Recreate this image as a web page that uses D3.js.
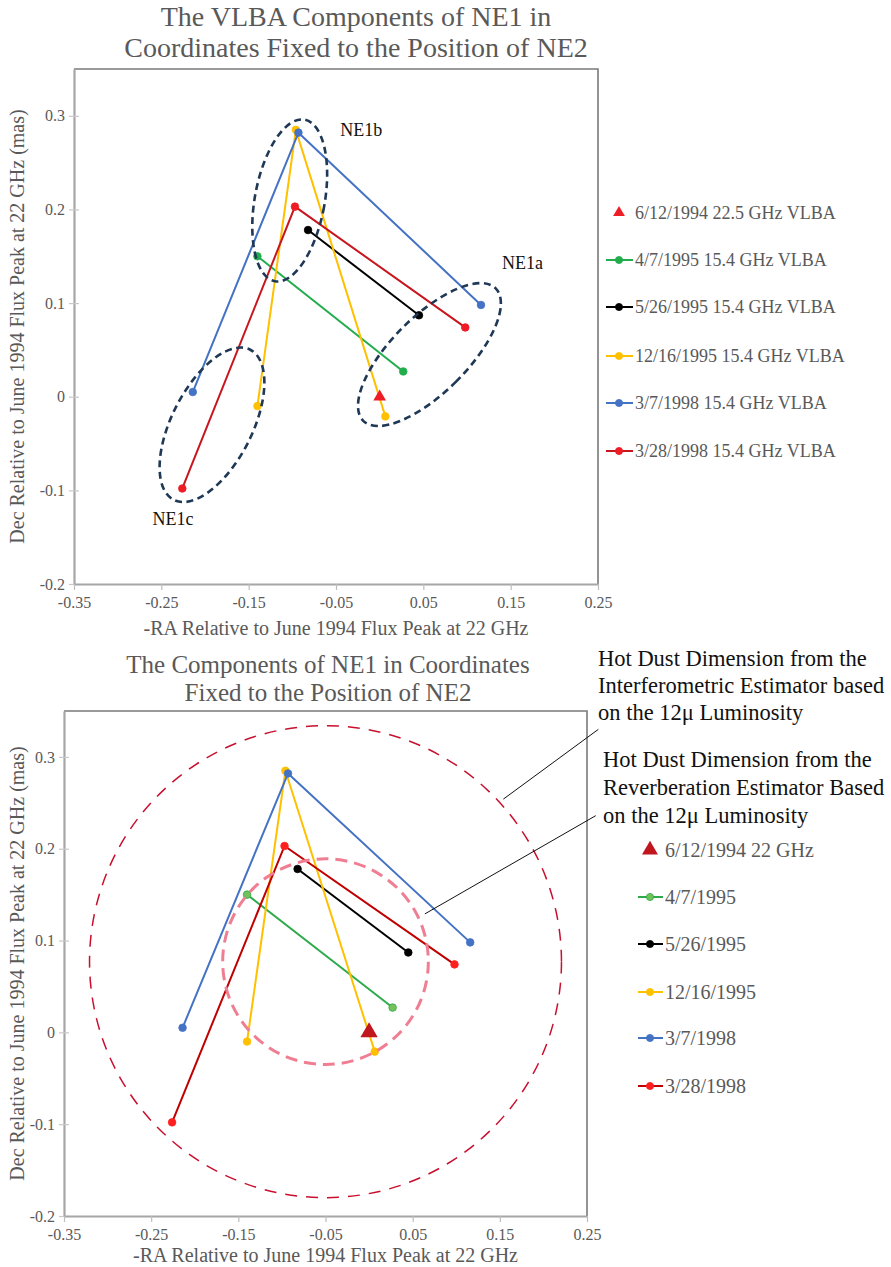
<!DOCTYPE html>
<html><head><meta charset="utf-8">
<script src="https://cdn.jsdelivr.net/npm/d3@7"></script>
<style>
body{margin:0;background:#fff;}
svg{display:block;}
text{font-family:"Liberation Serif","Times New Roman",serif;}
</style>
</head><body>
<svg id="c" width="891" height="1267"></svg>
<script>
// ---------- data ----------
const xTicks = [-0.35,-0.25,-0.15,-0.05,0.05,0.15,0.25];
const yTicks = [-0.2,-0.1,0,0.1,0.2,0.3];
const xDomain = [-0.35, 0.25];
const yDomain = [-0.2, 0.35];

const legendTop = ["6/12/1994 22.5 GHz VLBA","4/7/1995 15.4 GHz VLBA","5/26/1995 15.4 GHz VLBA","12/16/1995 15.4 GHz VLBA","3/7/1998 15.4 GHz VLBA","3/28/1998 15.4 GHz VLBA"];
const legendBottom = ["6/12/1994 22 GHz","4/7/1995","5/26/1995","12/16/1995","3/7/1998","3/28/1998"];

const pts19940612 = [[0.000, 0.000]];
const pts19950407 = [[-0.140, 0.150],[0.027, 0.027]];
const pts19950526 = [[-0.082, 0.178],[0.045, 0.087]];
const pts19951216 = [[-0.140,-0.010],[-0.096,0.285],[0.0065,-0.021]];
const pts19980307 = [[-0.214,0.005],[-0.093,0.282],[0.116,0.098]];
const pts19980328 = [[-0.226,-0.098],[-0.097,0.203],[0.098,0.074]];

// top-chart component ellipses (data units)
const ellipseNames = ["NE1a","NE1b","NE1c"];
const ellipseCenters = [[0.057,0.045],[-0.103,0.2096],[-0.192,-0.030]];
const ellipseAxes = [[0.0435,0.100],[0.040,0.0877],[0.046,0.090]];
const ellipseTilt = [45, 10.4, 27];
const ellipseLabelPos = [[0.140,0.136],[-0.045,0.278],[-0.260,-0.137]];

// bottom-chart hot dust circles (data units)
const dustCenter = [-0.05, 0.077];
const dustRadii = [0.257, 0.112];
const dustText1 = ["Hot Dust Dimension from the","Interferometric Estimator based","on the 12\u03bc Luminosity"];
const dustText2 = ["Hot Dust Dimension from the","Reverberation Estimator Based","on the 12\u03bc Luminosity"];
const leader1 = [[0.154,0.254],[0.263,0.330]];
const leader2 = [[0.064,0.129],[0.260,0.236]];

const titleTop = ["The VLBA Components of NE1 in","Coordinates Fixed to the Position of NE2"];
const titleBottom = ["The Components of NE1 in Coordinates","Fixed to the Position of NE2"];
const xTitle = "-RA Relative to June 1994 Flux Peak at 22 GHz";
const yTitle = "Dec Relative to June 1994 Flux Peak at 22 GHz (mas)";

// ---------- drawing ----------
const svg = d3.select("#c");
const GRAY = "#595959";
const seriesPts = [pts19950407, pts19950526, pts19951216, pts19980307, pts19980328];

function drawChart(cfg){
  const x = d3.scaleLinear().domain(xDomain).range([cfg.left, cfg.right]);
  const y = d3.scaleLinear().domain(yDomain).range([cfg.bottom, cfg.top]);
  const g = svg.append("g");

  cfg.title.forEach((t,i)=>{
    g.append("text").attr("x",cfg.titleX).attr("y",cfg.titleY + i*cfg.titleGap)
      .attr("text-anchor","middle").attr("font-size",cfg.titleSize).attr("fill",GRAY).text(t);
  });

  g.append("path").attr("d",`M${cfg.left},${cfg.top}H${cfg.right}V${cfg.bottom}`)
    .attr("fill","none").attr("stroke","#7a7a7a").attr("stroke-width",1.6);

  const yAxis = d3.axisLeft(y).tickValues(yTicks).tickSizeInner(0).tickSizeOuter(0).tickPadding(9)
      .tickFormat(d=> d===0 ? "0" : d3.format(".1f")(d).replace("\u2212","-"));
  const ya = g.append("g").attr("transform",`translate(${cfg.left},0)`).call(yAxis);
  ya.attr("font-family",null);
  ya.select(".domain").attr("stroke","#a6a6a6").attr("stroke-width",2.2);
  ya.selectAll(".tick text").attr("font-size",16).attr("fill",GRAY);
  ya.selectAll(".tick").append("line").attr("x1",-5).attr("x2",5).attr("stroke","#c8c8c8").attr("stroke-width",1.2);

  const xAxis = d3.axisBottom(x).tickValues(xTicks).tickSizeInner(6).tickSizeOuter(0).tickPadding(7)
      .tickFormat(d=> d3.format(".2f")(d).replace("\u2212","-"));
  const xa = g.append("g").attr("transform",`translate(0,${cfg.bottom})`).call(xAxis);
  xa.attr("font-family",null);
  xa.select(".domain").attr("stroke","#a6a6a6").attr("stroke-width",2);
  xa.selectAll(".tick line").attr("stroke","#bdbdbd").attr("stroke-width",1.2);
  xa.selectAll(".tick text").attr("font-size",16).attr("fill",GRAY);

  g.append("text").attr("x",(cfg.left+cfg.right)/2).attr("y",cfg.bottom+cfg.xTitleDy)
    .attr("text-anchor","middle").attr("font-size",20).attr("fill",GRAY).text(xTitle);
  g.append("text").attr("transform",`translate(${cfg.yTitleX},${(cfg.top+cfg.bottom)/2}) rotate(-90)`)
    .attr("text-anchor","middle").attr("font-size",20).attr("fill",GRAY).text(yTitle);

  const line = d3.line().x(d=>x(d[0])).y(d=>y(d[1]));
  seriesPts.forEach((pts,i)=>{
    const st = cfg.styles[i];
    g.append("path").datum(pts).attr("d",line).attr("fill","none")
      .attr("stroke",st.line).attr("stroke-width",2);
    g.selectAll(null).data(pts).enter().append("circle")
      .attr("cx",d=>x(d[0])).attr("cy",d=>y(d[1])).attr("r",3.8)
      .attr("fill",st.fill).attr("stroke",st.stroke).attr("stroke-width",0.8);
  });
  g.selectAll(null).data(pts19940612).enter().append("path")
    .attr("d",d3.symbol(d3.symbolTriangle, cfg.triSize))
    .attr("transform",d=>`translate(${x(d[0])},${y(d[1])})`)
    .attr("fill",cfg.triColor);

  cfg.legend.forEach((name,i)=>{
    const ly = cfg.legY[i];
    if(i===0){
      g.append("path").attr("d",d3.symbol(d3.symbolTriangle, cfg.legTriSize))
        .attr("transform",`translate(${cfg.legMark},${ly})`).attr("fill",cfg.triColor);
    } else {
      const st = cfg.styles[i-1];
      g.append("line").attr("x1",cfg.legL1).attr("x2",cfg.legL2).attr("y1",ly).attr("y2",ly)
        .attr("stroke",st.line).attr("stroke-width",2);
      g.append("circle").attr("cx",cfg.legMark).attr("cy",ly).attr("r",3.6)
        .attr("fill",st.fill).attr("stroke",st.stroke).attr("stroke-width",0.8);
    }
    g.append("text").attr("x",cfg.legText).attr("y",ly).attr("dy","0.34em")
      .attr("font-size",cfg.legSize).attr("fill",GRAY).text(name);
  });
  return {g,x,y};
}

const chartA = drawChart({
  left:74,right:598,top:69,bottom:584,
  title:titleTop,titleX:356,titleY:26,titleGap:31,titleSize:28,yTitleX:24,xTitleDy:51,
  styles:[
    {line:"#22AD4C",fill:"#22AD4C",stroke:"#22AD4C"},
    {line:"#000000",fill:"#000000",stroke:"#000000"},
    {line:"#FFC000",fill:"#FFC000",stroke:"#FFC000"},
    {line:"#4472C4",fill:"#4472C4",stroke:"#4472C4"},
    {line:"#C8161E",fill:"#EE1C25",stroke:"#EE1C25"}],
  triColor:"#EE1C25",triSize:70,legTriSize:60,
  legend:legendTop,legY:[212.7,260,307,356,403,451],
  legL1:606,legL2:633,legMark:619,legText:635,legSize:18
});

ellipseNames.forEach((nm,i)=>{
  const [cx,cy] = ellipseCenters[i];
  const px = chartA.x(cx), py = chartA.y(cy);
  const rx = chartA.x(cx+ellipseAxes[i][0]) - px;
  const ry = py - chartA.y(cy+ellipseAxes[i][1]);
  chartA.g.append("ellipse").attr("cx",px).attr("cy",py).attr("rx",rx).attr("ry",ry)
    .attr("transform",`rotate(${ellipseTilt[i]},${px},${py})`)
    .attr("fill","none").attr("stroke","#1F3855").attr("stroke-width",2.6)
    .attr("stroke-dasharray","7,4.5");
  chartA.g.append("text").attr("x",chartA.x(ellipseLabelPos[i][0])).attr("y",chartA.y(ellipseLabelPos[i][1]))
    .attr("font-size",18).attr("fill","#111").text(nm);
});

const chartB = drawChart({
  left:64,right:587,top:711,bottom:1216,
  title:titleBottom,titleX:328,titleY:673,titleGap:28,titleSize:25,yTitleX:24,xTitleDy:46,
  styles:[
    {line:"#2EAA4B",fill:"#72C25A",stroke:"#2EAA4B"},
    {line:"#000000",fill:"#000000",stroke:"#000000"},
    {line:"#FFC000",fill:"#FFC000",stroke:"#FFC000"},
    {line:"#4472C4",fill:"#4472C4",stroke:"#4472C4"},
    {line:"#C00000",fill:"#FF1F1F",stroke:"#FF1F1F"}],
  triColor:"#C0161E",triSize:130,legTriSize:110,
  legend:legendBottom,legY:[850,897,944,992,1038,1086],
  legL1:638,legL2:663,legMark:650,legText:665,legSize:20
});

const ccx = chartB.x(dustCenter[0]), ccy = chartB.y(dustCenter[1]);
const circleStyles = [
  {stroke:"#C8102E", w:1.5, dash:"12,9"},
  {stroke:"#F07E92", w:3, dash:"12,7"}];
dustRadii.forEach((r,i)=>{
  const rp = chartB.y(0) - chartB.y(r);
  chartB.g.append("circle").attr("cx",ccx).attr("cy",ccy).attr("r",rp)
    .attr("fill","none").attr("stroke",circleStyles[i].stroke).attr("stroke-width",circleStyles[i].w)
    .attr("stroke-dasharray",circleStyles[i].dash);
});
[leader1, leader2].forEach(l=>{
  chartB.g.append("line").attr("x1",chartB.x(l[0][0])).attr("y1",chartB.y(l[0][1]))
    .attr("x2",chartB.x(l[1][0])).attr("y2",chartB.y(l[1][1]))
    .attr("stroke","#111").attr("stroke-width",1);
});
dustText1.forEach((t,i)=>{
  chartB.g.append("text").attr("x",598).attr("y",666+i*27).attr("font-size",22.5).attr("fill","#111").text(t);
});
dustText2.forEach((t,i)=>{
  chartB.g.append("text").attr("x",603).attr("y",767+i*28).attr("font-size",22.5).attr("fill","#111").text(t);
});
</script>
</body></html>
